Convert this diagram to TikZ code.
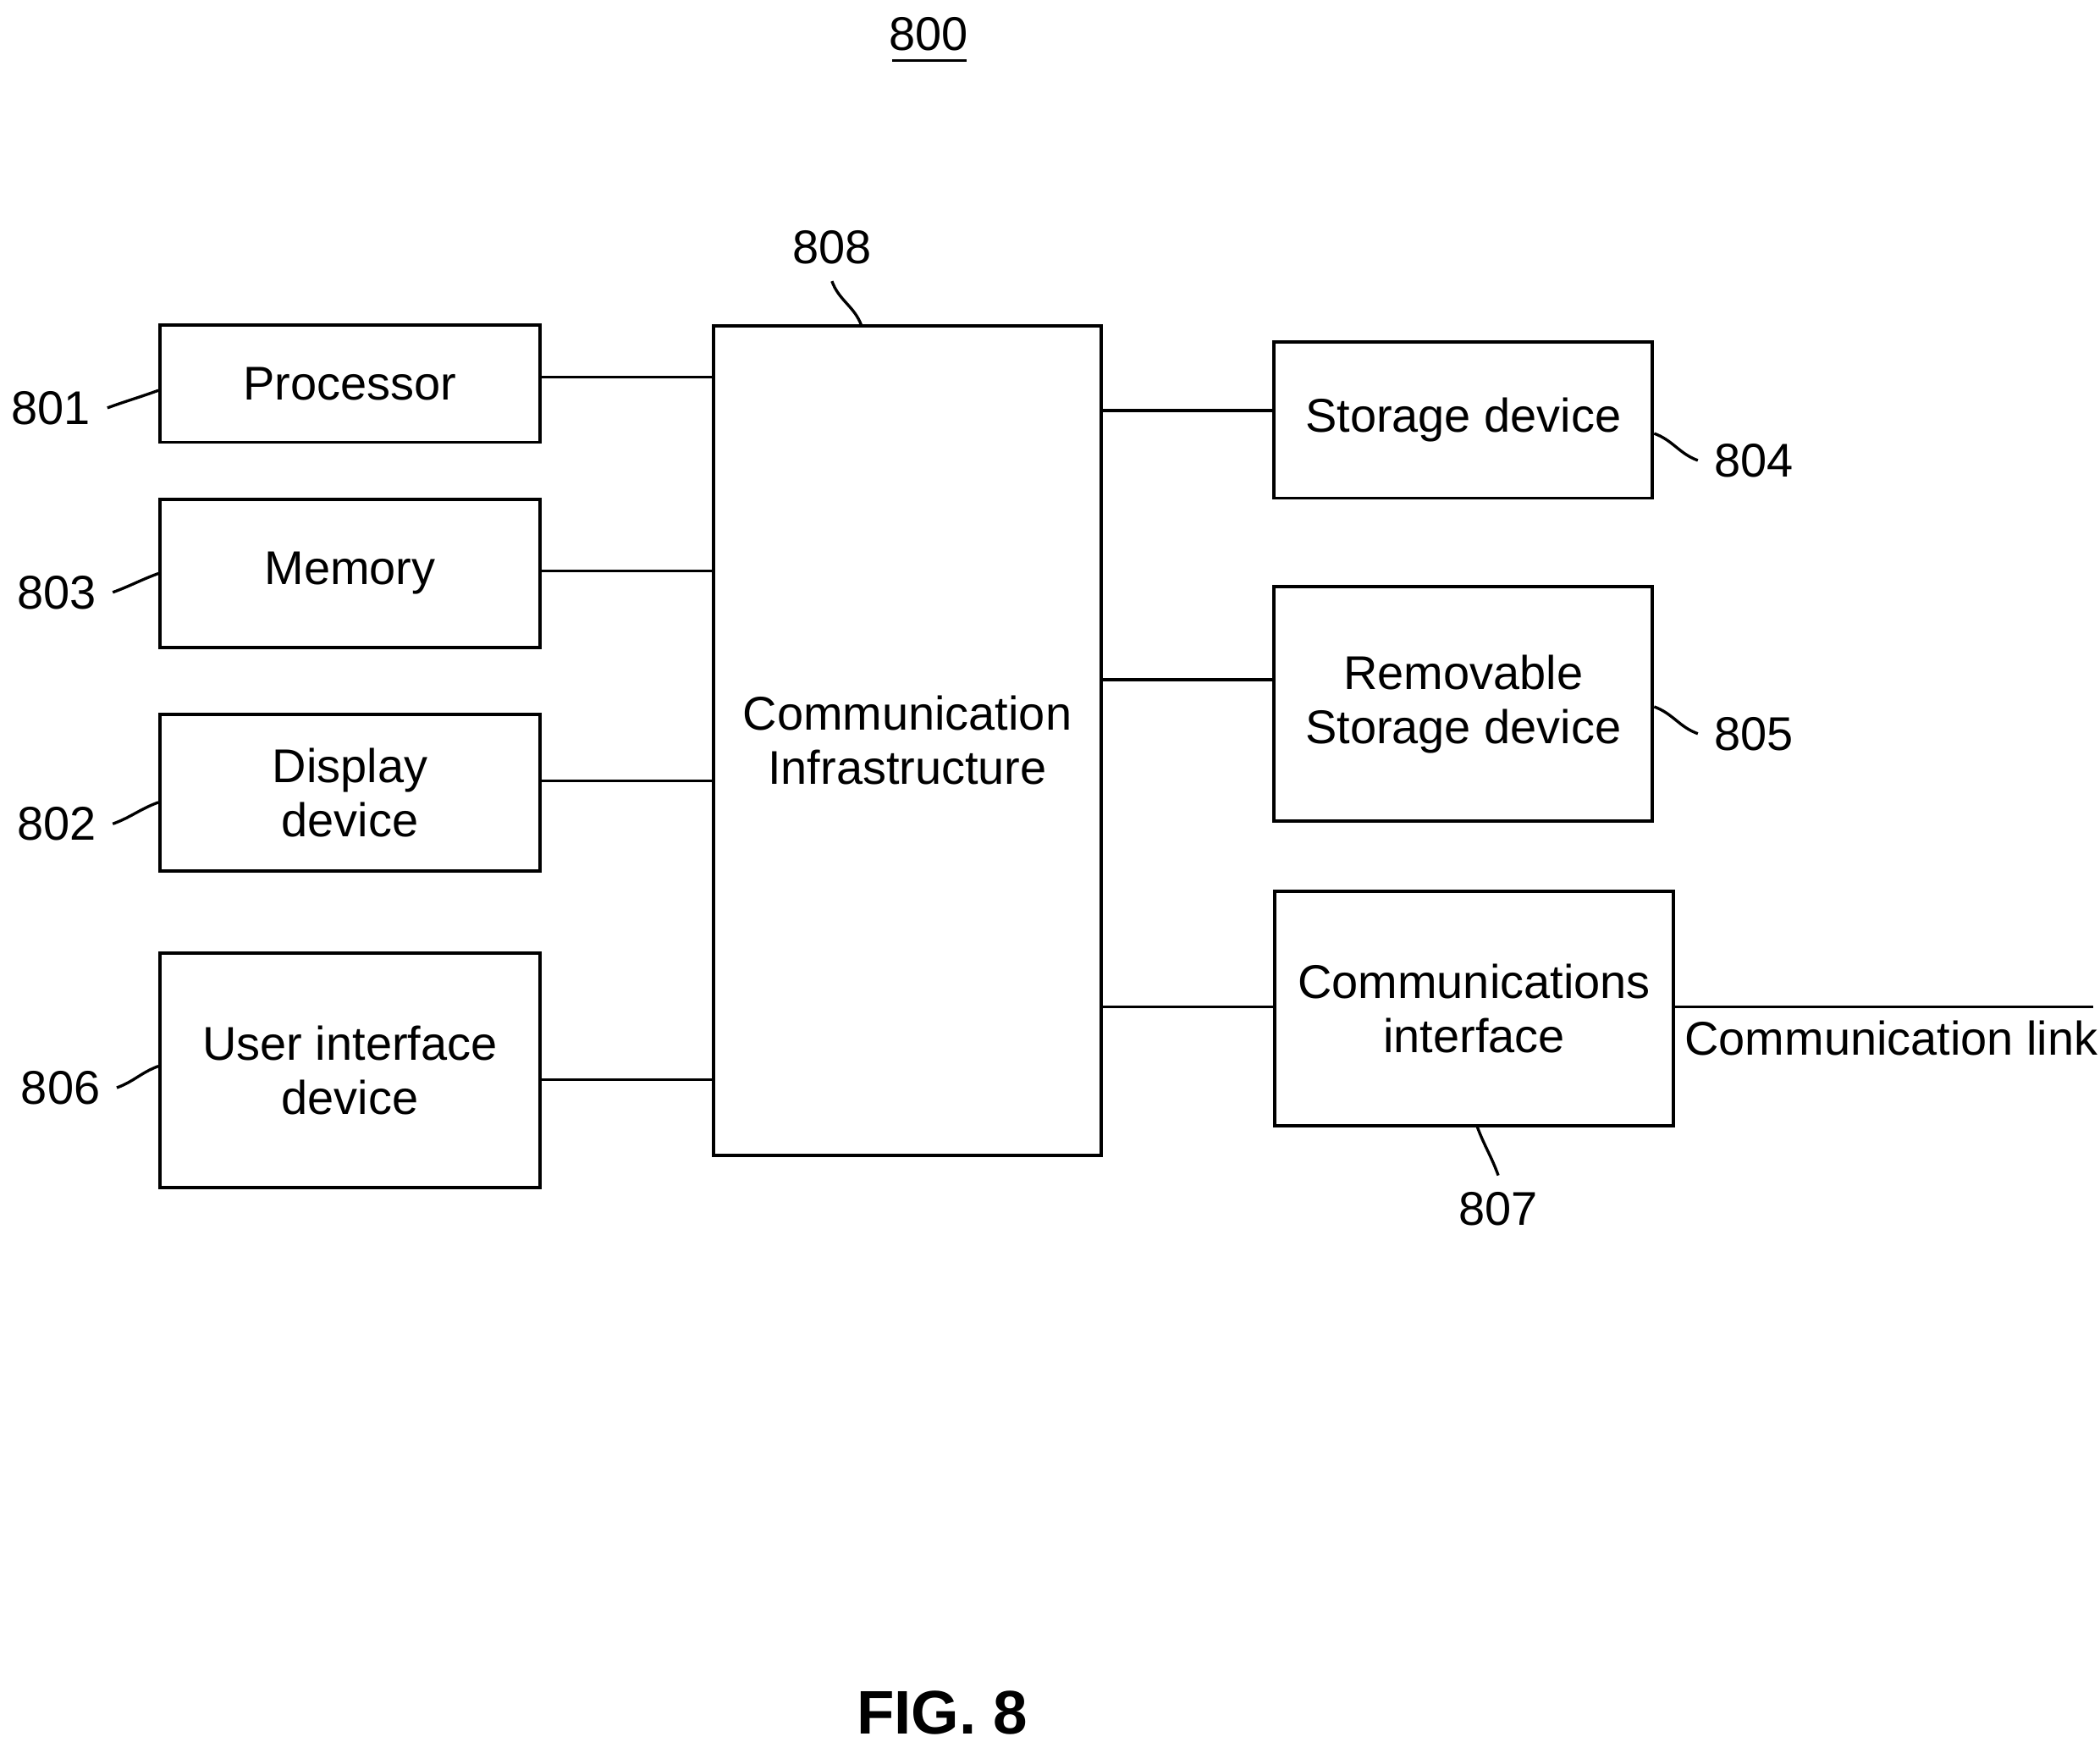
\documentclass[tikz,border=0pt]{standalone}
\usepackage{fontspec}
\setmainfont{Liberation Sans}
\begin{document}
\begin{tikzpicture}[x=0.01cm,y=-0.01cm,
  box/.style={draw,line width=0.7pt,align=center,inner sep=0pt,font=\fontsize{10}{11.5}\selectfont},
  refnum/.style={font=\fontsize{10}{12}\selectfont},
  lead/.style={line width=0.6pt}]
\useasboundingbox (0,0) rectangle (1560,1294);
% boxes
\node[box,minimum width=2.82cm,minimum height=0.87cm] (proc)  at (260,285)  {Processor};
\node[box,minimum width=2.82cm,minimum height=1.10cm] (mem)   at (260,426)  {Memory};
\node[box,minimum width=2.82cm,minimum height=1.16cm] (disp)  at (260,589)  {Display\\device};
\node[box,minimum width=2.82cm,minimum height=1.74cm] (ui)    at (260,795)  {User interface\\device};
\node[box,minimum width=2.88cm,minimum height=6.16cm] (infra) at (674,550)  {Communication\\Infrastructure};
\node[box,minimum width=2.81cm,minimum height=1.16cm] (stor)  at (1087,312) {Storage device};
\node[box,minimum width=2.81cm,minimum height=1.74cm] (remv)  at (1087,523) {Removable\\Storage device};
\node[box,minimum width=2.96cm,minimum height=1.74cm] (comm)  at (1095,749) {Communications\\interface};
\coordinate (linkend) at (1555,748);
\node[refnum] (linktxt) at (1405,771) {Communication link};
% connectors
\draw[lead] (proc.east |- 0,280) -- (infra.west |- 0,280);
\draw[lead] (mem.east |- 0,424)  -- (infra.west |- 0,424);
\draw[lead] (disp.east |- 0,580) -- (infra.west |- 0,580);
\draw[lead] (ui.east |- 0,802)   -- (infra.west |- 0,802);
\draw[lead] (infra.east |- 0,305) -- (stor.west |- 0,305);
\draw[lead] (infra.east |- 0,505) -- (remv.west |- 0,505);
\draw[lead] (infra.east |- 0,748) -- (comm.west |- 0,748);
\draw[lead] (comm.east |- 0,748) -- (linkend);
% reference numerals
\node[refnum] (n800) at (690,25) {800};
\draw[lead] (663,45) -- (718,45);
\node[refnum] (n801) at (38,303)  {801};
\node[refnum] (n803) at (42,440)  {803};
\node[refnum] (n802) at (42,612)  {802};
\node[refnum] (n806) at (45,808)  {806};
\node[refnum] (n808) at (618,184) {808};
\node[refnum] (n804) at (1303,342) {804};
\node[refnum] (n805) at (1303,545) {805};
\node[refnum] (n807) at (1113,898) {807};
\node[font=\bfseries\fontsize{13}{15}\selectfont] (fig) at (700,1272) {FIG. 8};
% leaders
\draw[lead] (n801.east) to[out=20,in=200] (proc.west |- 0,290);
\draw[lead] (n803.east) to[out=20,in=200] (mem.west |- 0,426);
\draw[lead] (n802.east) to[out=20,in=200] (disp.west |- 0,596);
\draw[lead] (n806.east) to[out=20,in=200] (ui.west |- 0,792);
\draw[lead] (n808.south) to[out=-70,in=110] (640,242);
\draw[lead] (n804.west) to[out=160,in=-20] (stor.east |- 0,322);
\draw[lead] (n805.west) to[out=160,in=-20] (remv.east |- 0,525);
\draw[lead] (n807.north) to[out=110,in=-70] (1097,836);
\end{tikzpicture}
\end{document}
